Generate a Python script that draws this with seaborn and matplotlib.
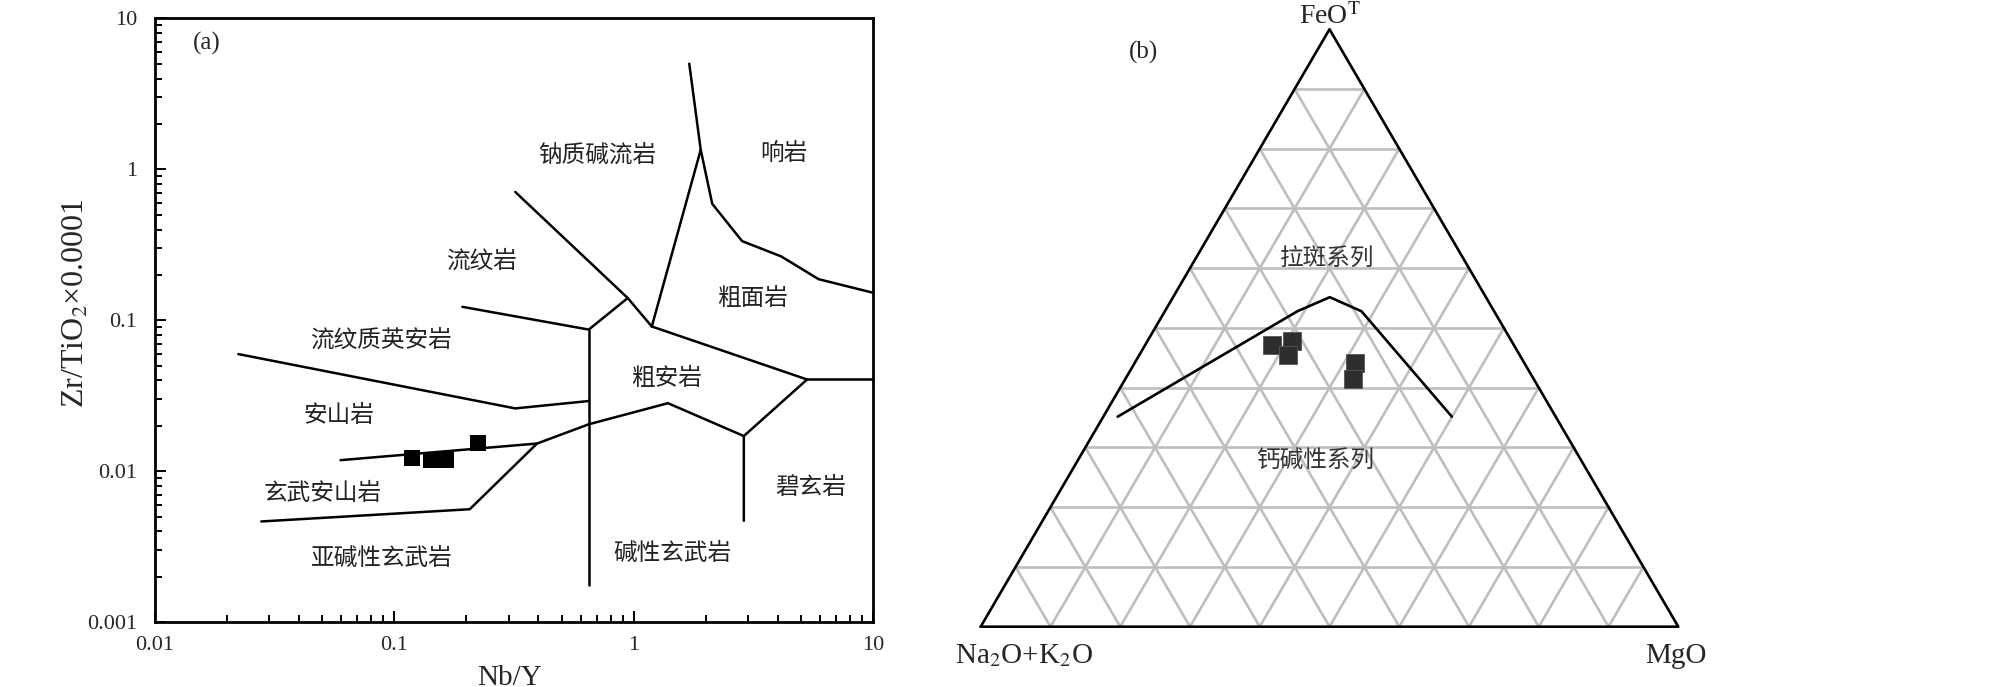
import numpy as np
import pandas as pd
import seaborn as sns
import matplotlib.pyplot as plt
from matplotlib.ticker import LogLocator, NullFormatter

# ---- panel (a): Nb/Y vs Zr/TiO2 (Winchester & Floyd) ----
# boundary lines
rda_x = [0.0223, 0.320, 0.649]
rda_y = [0.0598, 0.02611, 0.02923]
rhy_x = [0.1923, 0.649, 0.944]
rhy_y = [0.123, 0.0869, 0.1406]
com_x = [0.320, 0.944, 1.19]
com_y = [0.709, 0.1406, 0.0911]
trc_x = [1.19, 1.905]
trc_y = [0.0911, 1.35]
pho_x = [1.706, 1.905, 2.128, 2.837, 4.13, 5.92, 10.0]
pho_y = [5.02, 1.35, 0.592, 0.335, 0.2654, 0.1875, 0.1524]
tra_up_x = [1.19, 5.30, 10.0]
tra_up_y = [0.0911, 0.0406, 0.0406]
bas_x = [5.30, 2.884, 2.884]
bas_y = [0.0406, 0.01713, 0.0047]
tra_lo_x = [0.649, 1.39, 2.884]
tra_lo_y = [0.0205, 0.02828, 0.01713]
sub_x = [0.649, 0.3945, 0.2065, 0.0278]
sub_y = [0.0205, 0.01528, 0.00561, 0.004655]
and_x = [0.0596, 0.3945]
and_y = [0.01186, 0.01528]
ver_x = [0.649, 0.649]
ver_y = [0.0869, 0.001766]

# samples
nb_y = [0.1188, 0.1426, 0.1636, 0.2230]
zr_ti = [0.01226, 0.01189, 0.01189, 0.01541]

# field names and where they sit
field_names = ['钠质碱流岩', '响岩', '流纹岩', '粗面岩', '流纹质英安岩', '粗安岩',
               '安山岩', '玄武安山岩', '碧玄岩', '亚碱性玄武岩', '碱性玄武岩']
field_x = [0.705, 4.25, 0.2306, 3.13, 0.0877, 1.368, 0.0586, 0.0502, 5.5, 0.0887, 1.445]
field_y = [1.234, 1.276, 0.2449, 0.1378, 0.0731, 0.0408, 0.0231, 0.00709, 0.00778, 0.002636, 0.00282]

# ---- panel (b): AFM ternary ----
afm_feo = [0.3515, 0.528, 0.5515, 0.528, 0.3515]
afm_mgo = [0.0206, 0.190, 0.2246, 0.2818, 0.4997]
smp_feo = [0.472, 0.479, 0.454, 0.442, 0.414]
smp_mgo = [0.182, 0.2065, 0.213, 0.315, 0.327]

sns.set_style('white')
plt.rcParams['font.family'] = ['Liberation Serif', 'Noto Sans CJK SC']
plt.rcParams['mathtext.fontset'] = 'stix'

fig = plt.figure(figsize=(20.08, 6.87), dpi=100)

ax = fig.add_axes([0.0772, 0.0942, 0.3576, 0.8789])
ax.set_xscale('log')
ax.set_yscale('log')

lines_a = [(rda_x, rda_y), (rhy_x, rhy_y), (com_x, com_y), (trc_x, trc_y),
           (pho_x, pho_y), (tra_up_x, tra_up_y), (bas_x, bas_y),
           (tra_lo_x, tra_lo_y), (sub_x, sub_y), (and_x, and_y), (ver_x, ver_y)]
for xs, ys in lines_a:
    ax.plot(xs, ys, color='black', lw=1.8)

df_a = pd.DataFrame({'Nb/Y': nb_y, 'Zr/TiO2': zr_ti})
sns.scatterplot(data=df_a, x='Nb/Y', y='Zr/TiO2', marker='s', s=11.5 ** 2,
                color='black', linewidth=0, ax=ax, legend=False, zorder=3)

for name, fx, fy in zip(field_names, field_x, field_y):
    ax.text(fx, fy, name, ha='center', va='center', fontsize=17, color='#222222')

ax.text(0.0525, 0.959, '(a)', transform=ax.transAxes, ha='left', va='center', fontsize=18)

ax.set_xlim(0.01, 10)
ax.set_ylim(0.001, 10)
ax.set_xticks([0.01, 0.1, 1, 10])
ax.set_xticklabels(['0.01', '0.1', '1', '10'])
ax.set_yticks([0.001, 0.01, 0.1, 1, 10])
ax.set_yticklabels(['0.001', '0.01', '0.1', '1', '10'])
ax.xaxis.set_minor_locator(LogLocator(base=10, subs=range(2, 10)))
ax.yaxis.set_minor_locator(LogLocator(base=10, subs=range(2, 10)))
ax.xaxis.set_minor_formatter(NullFormatter())
ax.yaxis.set_minor_formatter(NullFormatter())
ax.tick_params(which='both', direction='in', bottom=True, left=True, top=False, right=False,
               labelsize=16, width=1.4, color='black')
ax.tick_params(which='major', length=8)
ax.tick_params(which='minor', length=5)
ax.tick_params(axis='x', pad=10)
ax.tick_params(axis='y', pad=13)
for sp in ax.spines.values():
    sp.set_color('black')
    sp.set_linewidth(2.0)

ax.set_xlabel('Nb/Y', fontsize=21)
ax.xaxis.set_label_coords(0.494, -0.07)
ax.set_ylabel('')
fig.text(76 / 2008, 1 - 303 / 687, 'Zr/TiO$_2$×0.0001', rotation=90,
         ha='center', va='center', fontsize=23)

# ---- ternary ----
bx = fig.add_axes([0.4884, 0.0878, 0.3474, 0.8696])
bx.set_xlim(0, 1)
bx.set_ylim(0, 1)
bx.axis('off')


def tern(feo, mgo):
    feo = np.asarray(feo)
    mgo = np.asarray(mgo)
    return mgo + feo / 2, feo


for k in range(1, 10):
    t = k / 10
    bx.plot([t / 2, 1 - t / 2], [t, t], color='#bebebe', lw=1.9, zorder=1)
    bx.plot([t, t + (1 - t) / 2], [0, 1 - t], color='#bebebe', lw=1.9, zorder=1)
    bx.plot([1 - t, (1 - t) / 2], [0, 1 - t], color='#bebebe', lw=1.9, zorder=1)

bx.plot([0, 1, 0.5, 0], [0, 0, 1, 0], color='black', lw=1.9, zorder=2, clip_on=False)

lx, ly = tern(afm_feo, afm_mgo)
bx.plot(lx, ly, color='black', lw=1.9, zorder=3)

sx, sy = tern(smp_feo, smp_mgo)
df_b = pd.DataFrame({'x': sx, 'y': sy})
sns.scatterplot(data=df_b, x='x', y='y', marker='s', s=13.5 ** 2, color='#2e2e2e',
                edgecolor='#555555', linewidth=0.6, ax=bx, legend=False, zorder=4)
bx.set_xlabel('')
bx.set_ylabel('')

bx.text(0.4966, 0.614, '拉斑系列', ha='center', va='center', fontsize=17, color='#333333')
bx.text(0.4795, 0.2764, '钙碱性系列', ha='center', va='center', fontsize=17, color='#333333')
bx.text(0.2327, 0.962, '(b)', ha='center', va='center', fontsize=18, clip_on=False)
bx.text(0.50, 1.009, 'FeO$^{\\mathrm{T}}$', ha='center', va='baseline', fontsize=20, clip_on=False)
bx.text(-0.0369, -0.0608, 'Na$_2$O+K$_2$O', ha='left', va='baseline', fontsize=21, clip_on=False)
bx.text(0.9965, -0.0608, 'MgO', ha='center', va='baseline', fontsize=21, clip_on=False)

fig.savefig('out.png', dpi=100)
